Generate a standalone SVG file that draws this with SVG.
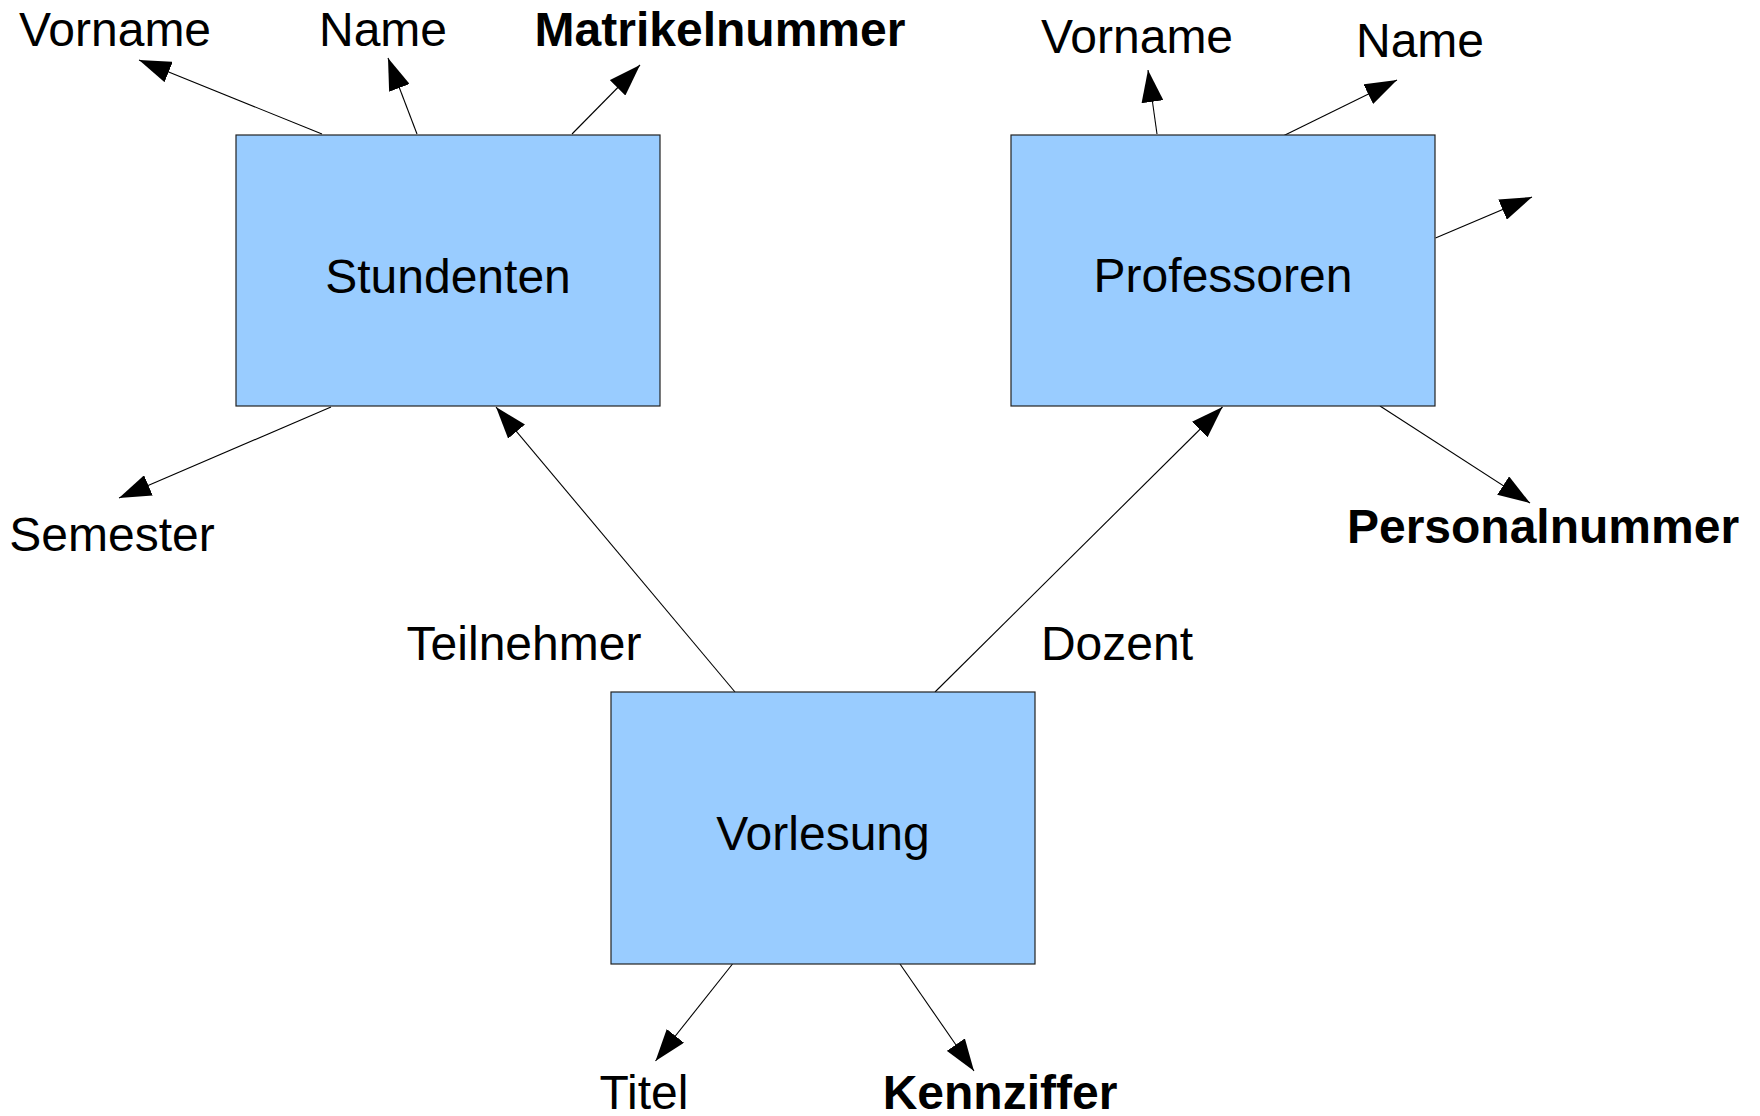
<svg xmlns="http://www.w3.org/2000/svg" width="1760" height="1116" viewBox="0 0 1760 1116">
<style>
.box{fill:#99ccff;stroke:#222;stroke-width:1.2}
.t{font-family:"Liberation Sans",Arial,sans-serif;font-size:48px;fill:#000;text-anchor:middle}
.b{font-weight:bold}
.c{stroke:#000;stroke-width:1.1;fill:none;marker-end:url(#ah)}
</style>
<defs>
<marker id="ah" markerUnits="userSpaceOnUse" markerWidth="32" markerHeight="22" refX="32" refY="11" orient="auto" viewBox="0 0 32 22">
<path d="M0,0 L32,11 L0,22 z" fill="#000"/>
</marker>
</defs>
<rect width="1760" height="1116" fill="#fff"/>
<g id="connectors">
<line class="c" x1="322" y1="134" x2="139" y2="60"/>
<line class="c" x1="417" y1="134" x2="388" y2="58"/>
<line class="c" x1="572" y1="134" x2="640" y2="65"/>
<line class="c" x1="331" y1="407" x2="119" y2="498"/>
<line class="c" x1="735" y1="692" x2="496" y2="407"/>
<line class="c" x1="935" y1="692" x2="1222.5" y2="407"/>
<line class="c" x1="1157" y1="134" x2="1148" y2="70"/>
<line class="c" x1="1283" y1="136" x2="1397" y2="80"/>
<line class="c" x1="1435.5" y1="238" x2="1532" y2="197"/>
<line class="c" x1="1380" y1="406" x2="1530" y2="503"/>
<line class="c" x1="732.5" y1="964" x2="655.5" y2="1061"/>
<line class="c" x1="900" y1="964" x2="974" y2="1071"/>
</g>
<g id="stundenten">
<rect class="box" x="236" y="135" width="424" height="271"/>
<text class="t" x="448" y="293">Stundenten</text>
</g>
<g id="professoren">
<rect class="box" x="1011" y="135" width="424" height="271"/>
<text class="t" x="1223" y="292">Professoren</text>
</g>
<g id="vorlesung">
<rect class="box" x="611" y="692" width="424" height="272"/>
<text class="t" x="823" y="850">Vorlesung</text>
</g>
<g id="labels">
<text class="t" x="115" y="46">Vorname</text>
<text class="t" x="383" y="46">Name</text>
<text class="t b" x="720" y="46">Matrikelnummer</text>
<text class="t" x="1137" y="53">Vorname</text>
<text class="t" x="1420" y="57">Name</text>
<text class="t" x="112" y="551">Semester</text>
<text class="t b" x="1543" y="543">Personalnummer</text>
<text class="t" x="524" y="660">Teilnehmer</text>
<text class="t" x="1117" y="660">Dozent</text>
<text class="t" x="644" y="1109">Titel</text>
<text class="t b" x="1000" y="1109">Kennziffer</text>
</g>
</svg>
